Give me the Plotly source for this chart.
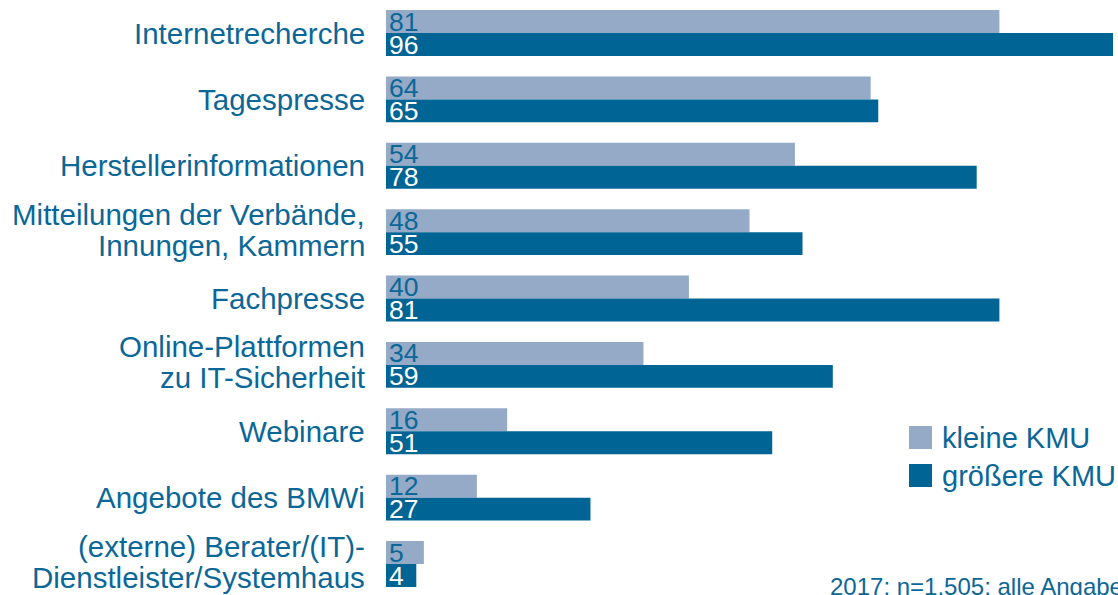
import plotly.graph_objects as go

# Information sources on IT security, share in percent
categories = [
    "Internetrecherche",
    "Tagespresse",
    "Herstellerinformationen",
    "Mitteilungen der Verbände,<br>Innungen, Kammern",
    "Fachpresse",
    "Online-Plattformen<br>zu IT-Sicherheit",
    "Webinare",
    "Angebote des BMWi",
    "(externe) Berater/(IT)-<br>Dienstleister/Systemhaus",
]
kleine_kmu = [81, 64, 54, 48, 40, 34, 16, 12, 5]
groessere_kmu = [96, 65, 78, 55, 81, 59, 51, 27, 4]
series_names = ["kleine KMU", "größere KMU"]
footnote = "2017: n=1.505; alle Angaben in Prozent"

LIGHT = "#94aac7"
DARK = "#006495"
TEXT = "#0b6797"
FONT = "Liberation Sans, Arial, sans-serif"

W, H = 1118, 595
ML = 386
idx = list(range(len(categories)))

fig = go.Figure()
for name, vals, col, tcol in [
    (series_names[0], kleine_kmu, LIGHT, TEXT),
    (series_names[1], groessere_kmu, DARK, "white"),
]:
    fig.add_trace(go.Bar(
        name=name, y=idx, x=vals, orientation="h",
        marker=dict(color=col, line=dict(width=0)),
        text=[str(v) for v in vals],
        textposition="inside", insidetextanchor="start",
        textangle=0, constraintext="none",
        insidetextfont=dict(family=FONT, size=26.5, color=tcol),
        showlegend=False,
    ))

# category labels, one annotation per text line for tight line spacing
for i, cat in enumerate(categories):
    lines = cat.split("<br>")
    n = len(lines)
    for k, line in enumerate(lines):
        shift = ((n - 1) / 2 - k) * 31 + (2.5 if n > 1 else 0)
        fig.add_annotation(
            x=0, y=i, xref="x", yref="y", text=line, showarrow=False,
            xanchor="right", yanchor="middle", xshift=-19, yshift=shift,
            font=dict(family=FONT, size=29.5, color=TEXT),
        )

def px_x(p):
    return (p - ML) / (W - ML)

def px_y(p):
    return 1 - p / H

# legend
for j, (name, col) in enumerate(zip(series_names, [LIGHT, DARK])):
    top = 426 + j * 38
    fig.add_shape(type="rect", xref="paper", yref="paper",
                  x0=px_x(909), x1=px_x(932), y0=px_y(top + 23), y1=px_y(top),
                  fillcolor=col, line=dict(width=0))
    fig.add_annotation(x=px_x(940), y=px_y(top + 12), xref="paper", yref="paper",
                       text=name, showarrow=False, xanchor="left", yanchor="middle",
                       font=dict(family=FONT, size=29, color=TEXT))

fig.add_annotation(x=px_x(828), y=px_y(586), xref="paper", yref="paper",
                   text=footnote, showarrow=False, xanchor="left", yanchor="middle",
                   font=dict(family=FONT, size=24, color=TEXT))

pitch = 66.375
c0 = 33
fig.update_layout(
    width=W, height=H,
    margin=dict(l=ML, r=0, t=0, b=0),
    paper_bgcolor="white", plot_bgcolor="rgba(0,0,0,0)",
    barmode="group", bargap=0.307, bargroupgap=0,
    xaxis=dict(range=[0, (W - ML) / 7.573], visible=False, fixedrange=True),
    yaxis=dict(range=[8 + (H - c0 - 8 * pitch) / pitch, -c0 / pitch],
               visible=False, fixedrange=True),
    uniformtext=dict(mode=False),
)

fig.write_html("out.html", config={"displayModeBar": False})
